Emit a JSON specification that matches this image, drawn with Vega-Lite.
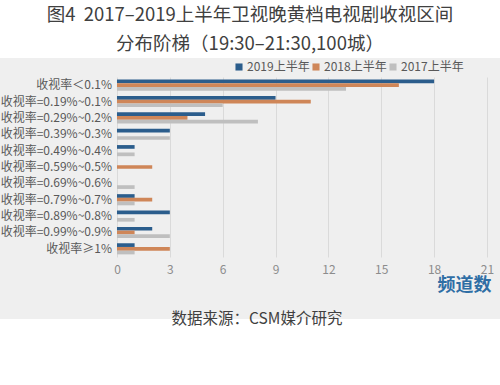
{
  "$schema": "https://vega.github.io/schema/vega-lite/v6.json",
  "background": "#efefef",
  "padding": 0,
  "columns": 1,
  "spacing": 19,
  "config": {
    "view": {"stroke": null},
    "font": "Noto Sans CJK SC"
  },
  "datasets": {
    "header": [
      {"line": 1, "text": "图4\u00a0\u00a02017–2019上半年卫视晚黄档电视剧收视区间"},
      {"line": 2, "text": "分布阶梯（19:30–21:30,100城）"}
    ],
    "footer": [
      {"line": 1, "text": "数据来源：CSM媒介研究"}
    ],
    "ranges": [
      {"range": "收视率＜0.1%"},
      {"range": "收视率=0.19%~0.1%"},
      {"range": "收视率=0.29%~0.2%"},
      {"range": "收视率=0.39%~0.3%"},
      {"range": "收视率=0.49%~0.4%"},
      {"range": "收视率=0.59%~0.5%"},
      {"range": "收视率=0.69%~0.6%"},
      {"range": "收视率=0.79%~0.7%"},
      {"range": "收视率=0.89%~0.8%"},
      {"range": "收视率=0.99%~0.9%"},
      {"range": "收视率≥1%"}
    ],
    "bars": [
      {"range": "收视率＜0.1%", "year": "2019上半年", "count": 18},
      {"range": "收视率＜0.1%", "year": "2018上半年", "count": 16},
      {"range": "收视率＜0.1%", "year": "2017上半年", "count": 13},
      {"range": "收视率=0.19%~0.1%", "year": "2019上半年", "count": 9},
      {"range": "收视率=0.19%~0.1%", "year": "2018上半年", "count": 11},
      {"range": "收视率=0.19%~0.1%", "year": "2017上半年", "count": 6},
      {"range": "收视率=0.29%~0.2%", "year": "2019上半年", "count": 5},
      {"range": "收视率=0.29%~0.2%", "year": "2018上半年", "count": 4},
      {"range": "收视率=0.29%~0.2%", "year": "2017上半年", "count": 8},
      {"range": "收视率=0.39%~0.3%", "year": "2019上半年", "count": 3},
      {"range": "收视率=0.39%~0.3%", "year": "2018上半年", "count": 0},
      {"range": "收视率=0.39%~0.3%", "year": "2017上半年", "count": 3},
      {"range": "收视率=0.49%~0.4%", "year": "2019上半年", "count": 1},
      {"range": "收视率=0.49%~0.4%", "year": "2018上半年", "count": 0},
      {"range": "收视率=0.49%~0.4%", "year": "2017上半年", "count": 1},
      {"range": "收视率=0.59%~0.5%", "year": "2019上半年", "count": 0},
      {"range": "收视率=0.59%~0.5%", "year": "2018上半年", "count": 2},
      {"range": "收视率=0.59%~0.5%", "year": "2017上半年", "count": 0},
      {"range": "收视率=0.69%~0.6%", "year": "2019上半年", "count": 0},
      {"range": "收视率=0.69%~0.6%", "year": "2018上半年", "count": 0},
      {"range": "收视率=0.69%~0.6%", "year": "2017上半年", "count": 1},
      {"range": "收视率=0.79%~0.7%", "year": "2019上半年", "count": 1},
      {"range": "收视率=0.79%~0.7%", "year": "2018上半年", "count": 2},
      {"range": "收视率=0.79%~0.7%", "year": "2017上半年", "count": 1},
      {"range": "收视率=0.89%~0.8%", "year": "2019上半年", "count": 3},
      {"range": "收视率=0.89%~0.8%", "year": "2018上半年", "count": 0},
      {"range": "收视率=0.89%~0.8%", "year": "2017上半年", "count": 1},
      {"range": "收视率=0.99%~0.9%", "year": "2019上半年", "count": 2},
      {"range": "收视率=0.99%~0.9%", "year": "2018上半年", "count": 1},
      {"range": "收视率=0.99%~0.9%", "year": "2017上半年", "count": 3},
      {"range": "收视率≥1%", "year": "2019上半年", "count": 1},
      {"range": "收视率≥1%", "year": "2018上半年", "count": 3},
      {"range": "收视率≥1%", "year": "2017上半年", "count": 1}
    ]
  },
  "concat": [
    {
      "width": 500,
      "height": 58,
      "view": {"fill": "#ffffff"},
      "data": {"name": "header"},
      "mark": {"type": "text", "fontSize": 18.5, "color": "#404040"},
      "encoding": {
        "y": {"field": "line", "type": "ordinal", "axis": null, "scale": {"paddingInner": 0, "paddingOuter": 0.32}},
        "text": {"field": "text"}
      }
    },
    {
      "columns": 1,
      "spacing": 18,
      "concat": [
        {
          "width": 497,
          "height": 180,
          "layer": [
            {
              "data": {"name": "bars"},
              "mark": {"type": "bar"},
              "encoding": {
                "y": {
                  "field": "range",
                  "type": "nominal",
                  "scale": {"domain": ["收视率＜0.1%", "收视率=0.19%~0.1%", "收视率=0.29%~0.2%", "收视率=0.39%~0.3%", "收视率=0.49%~0.4%", "收视率=0.59%~0.5%", "收视率=0.69%~0.6%", "收视率=0.79%~0.7%", "收视率=0.89%~0.8%", "收视率=0.99%~0.9%", "收视率≥1%"], "paddingInner": 0.32, "paddingOuter": 0.16},
                  "axis": null
                },
                "yOffset": {"field": "year", "type": "nominal", "sort": ["2019上半年", "2018上半年", "2017上半年"], "scale": {"paddingInner": 0, "paddingOuter": 0}},
                "x": {
                  "field": "count",
                  "type": "quantitative",
                  "scale": {"domain": [-6.64, 21.57], "nice": false, "zero": false},
                  "axis": {
                    "values": [0, 3, 6, 9, 12, 15, 18, 21],
                    "title": "频道数",
                    "titleAnchor": "end",
                    "titleAlign": "right",
                    "titleX": 491,
                    "titleColor": "#2f6ea5",
                    "titleFontSize": 18,
                    "titleFontWeight": "bold",
                    "titlePadding": 1,
                    "labelFontSize": 12,
                    "labelColor": "#8c8c8c",
                    "labelPadding": 7,
                    "ticks": false,
                    "tickSize": 0,
                    "domain": false,
                    "grid": true,
                    "gridColor": "#dadada"
                  }
                },
                "color": {
                  "field": "year",
                  "type": "nominal",
                  "scale": {"domain": ["2019上半年", "2018上半年", "2017上半年"], "range": ["#2b5d8c", "#cf8658", "#bfbfbf"]},
                  "legend": {
                    "title": null,
                    "orient": "none",
                    "direction": "horizontal",
                    "legendX": 233,
                    "legendY": 61,
                    "symbolType": "square",
                    "symbolSize": 50,
                    "symbolStrokeWidth": 0,
                    "labelFontSize": 12,
                    "labelColor": "#595959",
                    "labelOffset": 2,
                    "columnPadding": 0
                  }
                }
              }
            },
            {
              "data": {"name": "ranges"},
              "mark": {"type": "text", "align": "right", "fontSize": 12, "color": "#595959"},
              "encoding": {
                "y": {"field": "range", "type": "nominal"},
                "x": {"datum": -0.28, "type": "quantitative"},
                "text": {"field": "range"}
              }
            }
          ]
        },
        {
          "width": 500,
          "height": 85,
          "view": {"fill": "#ffffff"},
          "data": {"name": "footer"},
          "mark": {"type": "text", "fontSize": 15.5, "color": "#404040", "dx": 7},
          "encoding": {
            "y": {"field": "line", "type": "ordinal", "axis": null, "scale": {"paddingInner": 0, "paddingOuter": 0.68, "align": 0}},
            "text": {"field": "text"}
          }
        }
      ]
    }
  ]
}
